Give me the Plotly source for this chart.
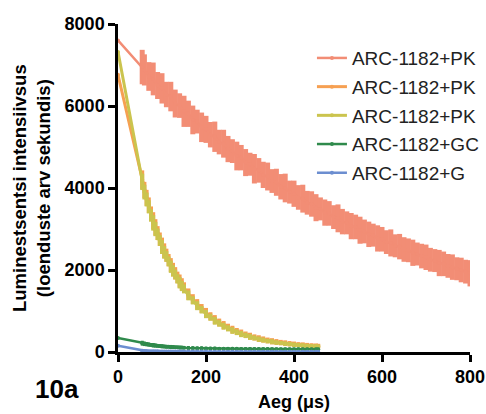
import plotly.graph_objects as go

# ---- data (time in µs, intensity in counts/s) ----
t_red = [0, 55] + list(range(60, 801, 10))
red_vals = [7600, 6950,
            6880, 6720, 6660, 6500, 6430, 6280, 6230, 6060, 6010, 5870,
            5810, 5660, 5620, 5480, 5430, 5300, 5250, 5120, 5080, 4950,
            4900, 4780, 4740, 4620, 4580, 4470, 4430, 4320, 4280, 4170,
            4140, 4030, 4000, 3900, 3860, 3770, 3740, 3640, 3610, 3520,
            3490, 3400, 3380, 3290, 3260, 3180, 3150, 3070, 3050, 2970,
            2940, 2870, 2850, 2770, 2750, 2680, 2660, 2590, 2570, 2500,
            2480, 2420, 2390, 2340, 2310, 2250, 2230, 2170, 2150, 2100,
            2070, 2030, 2000, 1960, 1920]
red_err = [0, 420,
           380, 350, 400, 330, 370, 310, 360, 340, 300, 380,
           320, 350, 290, 360, 330, 310, 370, 300, 340, 320,
           290, 350, 310, 330, 280, 360, 300, 320, 340, 290,
           330, 310, 350, 280, 320, 300, 340, 290, 310, 330,
           280, 320, 300, 290, 340, 310, 280, 320, 300, 330,
           290, 310, 280, 320, 300, 290, 330, 280, 310, 300,
           290, 320, 280, 300, 310, 290, 280, 320, 300, 290,
           310, 280, 300, 290, 320]

t_fast = [0, 55] + list(range(60, 151, 5)) + list(range(160, 451, 10)) + [455]
orange_vals = [6760, 4200,
               3950, 3760, 3580, 3370, 3200, 3040, 2900, 2750, 2600, 2470,
               2360, 2240, 2120, 2010, 1920, 1820, 1730, 1650, 1570,
               1410, 1290, 1160, 1060, 955, 870, 790, 720, 655, 600,
               545, 500, 458, 420, 385, 355, 328, 305, 282, 262,
               245, 230, 215, 202, 190, 180, 170, 162, 154, 148, 145]
orange_err = [0, 230,
              200, 195, 190, 180, 210, 200, 170, 165, 190, 180,
              160, 150, 170, 165, 150, 140, 160, 150, 130,
              140, 120, 130, 110, 120, 100, 110, 95, 100, 90,
              95, 85, 90, 80, 85, 75, 80, 75, 70, 75,
              70, 65, 70, 65, 65, 60, 65, 60, 60, 60, 55]
yellow_vals = [7320, 4150,
               3900, 3720, 3540, 3330, 3150, 3000, 2870, 2720, 2560, 2430,
               2330, 2210, 2080, 1980, 1890, 1785, 1690, 1610, 1540,
               1380, 1260, 1130, 1030, 925, 848, 762, 698, 630, 578,
               524, 482, 437, 405, 368, 343, 312, 291, 266, 250,
               230, 218, 202, 191, 178, 170, 159, 153, 143, 138, 135]
yellow_err = [0, 200,
              180, 170, 160, 150, 190, 175, 140, 130, 170, 155,
              130, 120, 150, 140, 120, 115, 140, 125, 110,
              120, 100, 110, 90, 100, 85, 95, 80, 85, 75,
              80, 70, 75, 65, 70, 60, 65, 60, 55, 60,
              55, 50, 55, 50, 50, 45, 50, 45, 50, 45, 45]
green_vals = [340, 215,
              200, 190, 180, 172, 165, 158, 150, 145, 140, 135,
              130, 126, 122, 119, 116, 113, 110, 108, 105,
              100, 97, 94, 91, 88, 86, 84, 82, 80, 79,
              78, 77, 76, 75, 74, 73, 72, 72, 71, 70,
              70, 69, 69, 68, 68, 67, 67, 66, 66, 66, 65]
green_err = [0, 60,
             55, 50, 50, 45, 55, 50, 45, 45, 50, 45,
             45, 40, 50, 45, 40, 40, 45, 42, 40,
             45, 40, 40, 45, 40, 40, 45, 40, 40, 40,
             45, 40, 40, 40, 45, 40, 40, 40, 40, 45,
             40, 40, 40, 40, 40, 45, 40, 40, 40, 40, 40]
blue_vals = [150, 30,
             25, 22, 20, 19, 18, 17, 16, 15, 15, 14,
             14, 13, 13, 12, 12, 12, 12, 11, 11,
             11, 10, 10, 10, 10, 9, 9, 9, 9, 9,
             9, 8, 8, 8, 8, 8, 8, 8, 8, 8,
             8, 8, 8, 8, 8, 8, 8, 8, 8, 8, 8]
blue_err = [0, 40,
            35, 30, 35, 30, 35, 30, 35, 30, 35, 30,
            35, 30, 35, 30, 35, 30, 35, 30, 35,
            30, 35, 30, 35, 30, 35, 30, 35, 30, 35,
            30, 35, 30, 35, 30, 35, 30, 35, 30, 35,
            30, 35, 30, 35, 30, 35, 30, 35, 30, 35, 30]

# legend labels as visible in the reference (cut at the right edge there)
names = ["ARC-1182+PK", "ARC-1182+PK", "ARC-1182+PK", "ARC-1182+GC", "ARC-1182+G"]
colors = ["#F28D75", "#F6A052", "#CBC44E", "#2F8A4C", "#6C8ED0"]
bar_thickness = [5, 4, 4, 3, 3]
line_widths = [2.5, 3, 3, 2.5, 2.5]

series = [
    (t_red, red_vals, red_err),
    (t_fast, orange_vals, orange_err),
    (t_fast, yellow_vals, yellow_err),
    (t_fast, green_vals, green_err),
    (t_fast, blue_vals, blue_err),
]
for (t, v, e) in series:
    assert len(t) == len(v) == len(e), (len(t), len(v), len(e))

fig = go.Figure()
for i, (name, color, th, lw, (t, v, e)) in enumerate(
        zip(names, colors, bar_thickness, line_widths, series)):
    fig.add_trace(go.Scatter(
        x=t, y=v, name=name, legendgroup="g%d" % i, mode="lines+markers",
        line=dict(color=color, width=lw),
        marker=dict(color=color, size=4),
        error_y=dict(type="data", array=e, visible=True, color=color,
                     thickness=th, width=0),
    ))

FONT = "Liberation Sans, Arial, sans-serif"
fig.update_layout(
    width=486, height=414,
    margin=dict(l=118, r=16, t=24, b=62, autoexpand=False),
    paper_bgcolor="white", plot_bgcolor="white",
    showlegend=True,
    legend=dict(x=0.551, y=0.954, xanchor="left", yanchor="top",
                bgcolor="rgba(0,0,0,0)", tracegroupgap=1,
                font=dict(family=FONT, size=19, color="#222")),
    xaxis=dict(range=[0, 800], tickvals=[0, 200, 400, 600, 800],
               showline=True, linecolor="black", linewidth=2.5,
               ticks="outside", ticklen=7, tickwidth=2.5, tickcolor="black",
               showgrid=False, zeroline=False,
               tickfont=dict(family=FONT, size=18, color="black", weight="bold")),
    yaxis=dict(range=[0, 8000], tickvals=[0, 2000, 4000, 6000, 8000],
               showline=True, linecolor="black", linewidth=2.5,
               ticks="outside", ticklen=7, tickwidth=2.5, tickcolor="black",
               showgrid=False, zeroline=False,
               tickfont=dict(family=FONT, size=18, color="black", weight="bold")),
    annotations=[
        dict(text="Luminestsentsi intensiivsus<br>(loenduste arv sekundis)",
             xref="paper", yref="paper", x=-0.247, y=0.5, textangle=-90,
             showarrow=False, xanchor="center", yanchor="middle",
             font=dict(family=FONT, size=18.5, color="black", weight="bold")),
        dict(text="Aeg (μs)", xref="paper", yref="paper", x=0.5, y=-0.152,
             showarrow=False, xanchor="center", yanchor="middle",
             font=dict(family=FONT, size=18, color="black", weight="bold")),
        dict(text="10a", xref="paper", yref="paper", x=-0.173, y=-0.113,
             showarrow=False, xanchor="center", yanchor="middle",
             font=dict(family=FONT, size=26, color="black", weight="bold")),
    ],
)

fig.write_html("out.html")
